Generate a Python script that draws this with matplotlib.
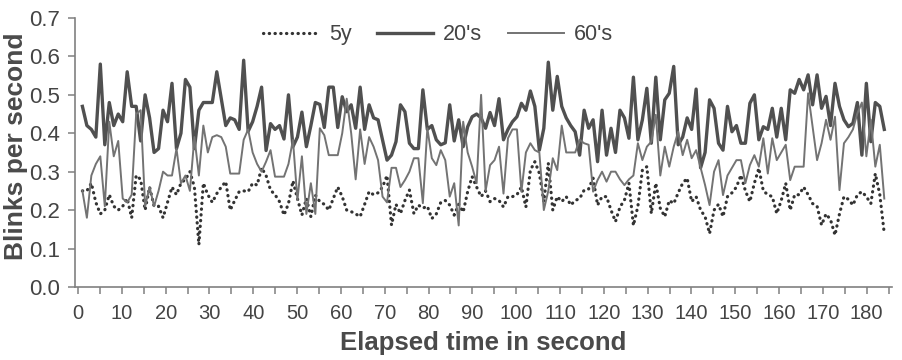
import numpy as np
import matplotlib.pyplot as plt

plt.rcParams['font.family'] = ['Liberation Sans', 'DejaVu Sans']

# blinks per second, one value per second of viewing
young_5y = [0.25, 0.25, 0.27, 0.22, 0.19, 0.20, 0.24, 0.21, 0.20, 0.21,
            0.23, 0.18, 0.29, 0.28, 0.20, 0.26, 0.21, 0.21, 0.18, 0.22,
            0.26, 0.24, 0.27, 0.28, 0.30, 0.26, 0.11, 0.27, 0.24, 0.22,
            0.243, 0.26, 0.274, 0.20, 0.225, 0.248, 0.25, 0.248, 0.27, 0.265,
            0.31, 0.29, 0.252, 0.24, 0.222, 0.187, 0.217, 0.276, 0.23, 0.187,
            0.23, 0.183, 0.239, 0.222, 0.215, 0.20, 0.23, 0.26, 0.235, 0.20,
            0.196, 0.19, 0.183, 0.215, 0.248, 0.24, 0.245, 0.26, 0.29, 0.161,
            0.215, 0.191, 0.225, 0.252, 0.191, 0.213, 0.205, 0.21, 0.178, 0.19,
            0.22, 0.225, 0.213, 0.187, 0.215, 0.195, 0.248, 0.287, 0.26, 0.235,
            0.25, 0.222, 0.23, 0.225, 0.208, 0.235, 0.235, 0.24, 0.26, 0.208,
            0.304, 0.326, 0.296, 0.222, 0.322, 0.20, 0.235, 0.222, 0.235, 0.213,
            0.225, 0.23, 0.252, 0.255, 0.283, 0.213, 0.235, 0.235, 0.20, 0.17,
            0.208, 0.226, 0.27, 0.16, 0.21, 0.304, 0.313, 0.191, 0.27, 0.205,
            0.183, 0.225, 0.217, 0.245, 0.27, 0.283, 0.222, 0.235, 0.20, 0.183,
            0.139, 0.20, 0.215, 0.183, 0.235, 0.245, 0.26, 0.291, 0.25, 0.222,
            0.27, 0.309, 0.25, 0.24, 0.235, 0.191, 0.225, 0.27, 0.20, 0.24,
            0.24, 0.26, 0.24, 0.217, 0.21, 0.161, 0.19, 0.175, 0.135, 0.19,
            0.235, 0.228, 0.213, 0.24, 0.248, 0.235, 0.217, 0.295, 0.24, 0.139]

adult_20s = [0.47, 0.42, 0.41, 0.39, 0.58, 0.37, 0.48, 0.42, 0.45, 0.43,
             0.56, 0.47, 0.47, 0.38, 0.50, 0.44, 0.35, 0.36, 0.46, 0.43,
             0.53, 0.36, 0.40, 0.54, 0.52, 0.36, 0.46, 0.48, 0.48, 0.48,
             0.56, 0.49, 0.42, 0.44, 0.435, 0.41, 0.59, 0.405, 0.43, 0.47,
             0.52, 0.355, 0.425, 0.41, 0.42, 0.385, 0.50, 0.365, 0.39, 0.455,
             0.365, 0.42, 0.48, 0.475, 0.415, 0.52, 0.52, 0.415, 0.495, 0.456,
             0.474, 0.413, 0.52, 0.41, 0.474, 0.44, 0.435, 0.383, 0.33, 0.343,
             0.378, 0.474, 0.456, 0.374, 0.36, 0.36, 0.513, 0.41, 0.42, 0.383,
             0.37, 0.375, 0.474, 0.38, 0.435, 0.365, 0.417, 0.443, 0.45, 0.44,
             0.413, 0.454, 0.42, 0.49, 0.383, 0.41, 0.43, 0.443, 0.478, 0.46,
             0.51, 0.47, 0.356, 0.413, 0.585, 0.46, 0.548, 0.47, 0.44, 0.42,
             0.404, 0.343, 0.46, 0.413, 0.435, 0.326, 0.46, 0.343, 0.413, 0.35,
             0.46, 0.44, 0.387, 0.546, 0.383, 0.435, 0.517, 0.374, 0.546, 0.383,
             0.487, 0.504, 0.574, 0.37, 0.39, 0.44, 0.41, 0.515, 0.31, 0.35,
             0.487, 0.465, 0.374, 0.356, 0.47, 0.404, 0.42, 0.374, 0.374, 0.478,
             0.50, 0.383, 0.417, 0.41, 0.465, 0.39, 0.465, 0.383, 0.513, 0.504,
             0.54, 0.513, 0.552, 0.474, 0.552, 0.465, 0.496, 0.42, 0.53, 0.47,
             0.435, 0.417, 0.426, 0.48, 0.343, 0.53, 0.378, 0.48, 0.47, 0.41]

senior_60s = [0.25, 0.18, 0.29, 0.32, 0.34, 0.21, 0.43, 0.34, 0.38, 0.23,
              0.22, 0.24, 0.45, 0.46, 0.21, 0.26, 0.21, 0.25, 0.30, 0.29,
              0.29, 0.36, 0.27, 0.29, 0.25, 0.39, 0.29, 0.42, 0.35, 0.39,
              0.395, 0.39, 0.365, 0.295, 0.295, 0.295, 0.383, 0.41, 0.35, 0.32,
              0.30, 0.326, 0.356, 0.287, 0.287, 0.287, 0.32, 0.383, 0.226, 0.34,
              0.19, 0.27, 0.19, 0.413, 0.395, 0.343, 0.343, 0.343, 0.40, 0.49,
              0.40, 0.28, 0.41, 0.32, 0.39, 0.365, 0.33, 0.235, 0.22, 0.31,
              0.31, 0.26, 0.278, 0.30, 0.335, 0.335, 0.218, 0.413, 0.335, 0.317,
              0.356, 0.33, 0.235, 0.27, 0.16, 0.43, 0.35, 0.313, 0.27, 0.50,
              0.25, 0.317, 0.33, 0.365, 0.243, 0.387, 0.41, 0.41, 0.248, 0.35,
              0.374, 0.356, 0.35, 0.20, 0.25, 0.335, 0.304, 0.42, 0.35, 0.35,
              0.35, 0.383, 0.374, 0.37, 0.248, 0.278, 0.30, 0.274, 0.30, 0.30,
              0.28, 0.265, 0.28, 0.29, 0.374, 0.33, 0.365, 0.378, 0.448, 0.29,
              0.365, 0.313, 0.365, 0.404, 0.343, 0.383, 0.335, 0.356, 0.31, 0.265,
              0.213, 0.30, 0.33, 0.239, 0.29, 0.31, 0.33, 0.33, 0.27, 0.317,
              0.343, 0.313, 0.387, 0.295, 0.387, 0.33, 0.35, 0.37, 0.278, 0.313,
              0.313, 0.313, 0.504, 0.417, 0.33, 0.374, 0.435, 0.383, 0.443, 0.252,
              0.374, 0.39, 0.41, 0.452, 0.48, 0.34, 0.435, 0.313, 0.37, 0.23]

# samples are spread a little wider than the printed second labels
seconds = np.linspace(1, 184, len(adult_20s))

fig = plt.figure(figsize=(9.03, 3.6), dpi=100)
ax = fig.add_axes([0.083, 0.203, 0.905, 0.747])

ax.plot(seconds, young_5y, color='#333333', lw=2.3, linestyle=(0, (0.1, 1.7)),
        dash_capstyle='round', label='5y')
ax.plot(seconds, adult_20s, color='#505050', lw=2.4, label="20's")
ax.plot(seconds, senior_60s, color='#737373', lw=1.4, label="60's")

ax.set_xlim(-0.7, 185.8)
ax.set_ylim(0, 0.7)
ax.set_xticks(np.arange(0, 181, 10))
ax.set_xticks(np.arange(0, 186, 5), minor=True)
ax.set_yticks(np.arange(0, 0.71, 0.1))
ax.set_yticklabels([f'{v:.1f}' for v in np.arange(0, 0.71, 0.1)])

for side in ['top', 'right']:
    ax.spines[side].set_visible(False)
for side in ['left', 'bottom']:
    ax.spines[side].set_color('#808080')
    ax.spines[side].set_linewidth(1.2)

ax.tick_params(axis='x', which='both', direction='out', length=5, width=1.1,
               color='#808080', labelsize=14.5, labelcolor='#444444', pad=7)
ax.tick_params(axis='y', direction='out', length=5, width=1.1, color='#808080',
               labelsize=16, labelcolor='#444444', pad=6)

ax.set_xlabel('Elapsed time in second', fontsize=18.5, fontweight='bold',
              color='#4a4a4a', labelpad=6)
ax.set_ylabel('Blinks per second', fontsize=19, fontweight='bold',
              color='#4a4a4a')
ax.yaxis.set_label_coords(-0.057, 0.524)

ax.legend(loc='center', bbox_to_anchor=(0.444, 0.937), ncol=3, frameon=False,
          fontsize=15.5, handlelength=2.6, columnspacing=1.2, handletextpad=0.45,
          labelcolor='#444444', borderpad=0.2)

fig.savefig('out.png', dpi=100)
